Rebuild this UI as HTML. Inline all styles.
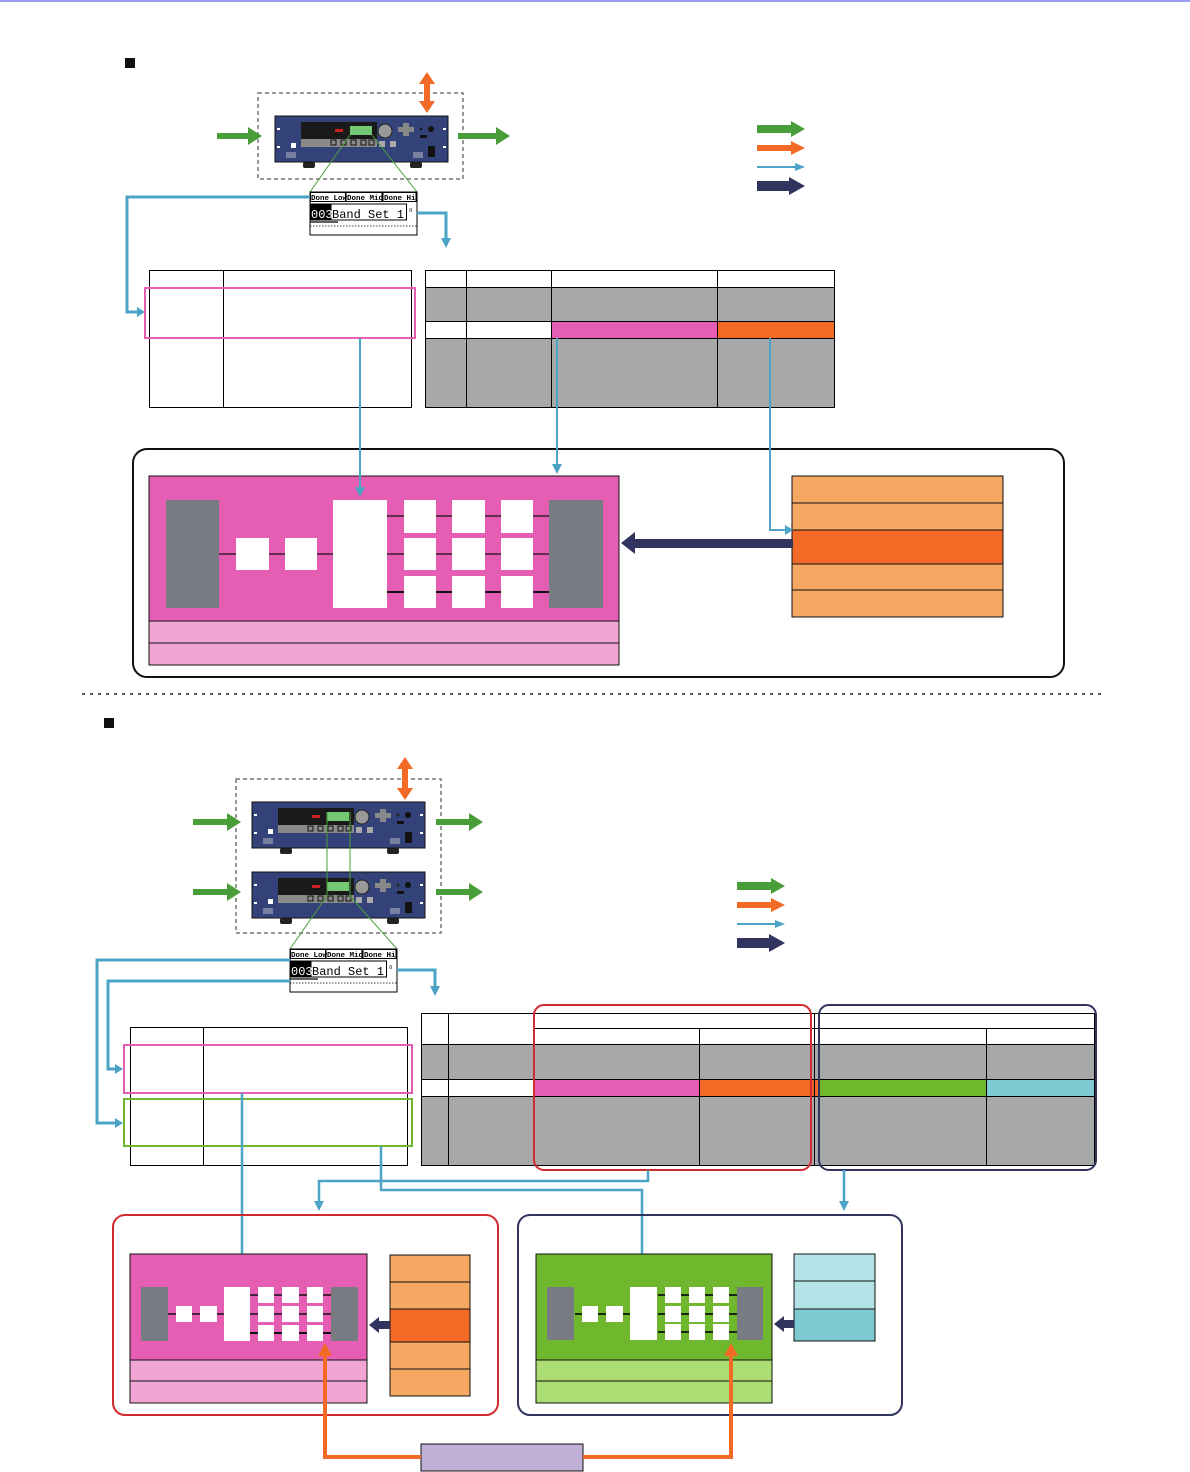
<!DOCTYPE html>
<html><head><meta charset="utf-8"><style>html,body{margin:0;padding:0;background:#fff}svg{display:block}</style></head><body>
<svg width="1190" height="1472" viewBox="0 0 1190 1472" xmlns="http://www.w3.org/2000/svg" font-family="Liberation Mono, monospace">
<defs>
<g id="dev">
<rect x="-5" y="46" width="1" height="1" fill="none"/>
<rect x="28" y="46" width="12" height="6" rx="2" fill="#222"/>
<rect x="135" y="46" width="12" height="6" rx="2" fill="#222"/>
<rect x="0" y="0" width="173" height="46" fill="#34427a" stroke="#111" stroke-width="1"/>
<rect x="26" y="6" width="76" height="25" fill="#1a1a1a"/>
<rect x="26" y="23" width="76" height="8" fill="#8a8a8a"/>
<rect x="75" y="10" width="22" height="9" fill="#74c874"/>
<rect x="60" y="13" width="8" height="3" fill="#c22"/>
<g fill="none" stroke="#111" stroke-width="1"><rect x="56" y="24" width="5" height="5"/><rect x="66" y="24" width="5" height="5"/><rect x="76" y="24" width="5" height="5"/><rect x="86" y="24" width="5" height="5"/><rect x="94" y="24" width="5" height="5"/></g>
<circle cx="110" cy="15" r="7" fill="#999" stroke="#222"/>
<rect x="123" y="11" width="16" height="5" fill="#888"/><rect x="128" y="7" width="6" height="13" fill="#888"/>
<rect x="104" y="25" width="6" height="6" fill="#aaa"/><rect x="115" y="25" width="6" height="6" fill="#aaa"/>
<circle cx="146" cy="13" r="1.5" fill="#222"/><circle cx="156" cy="13" r="3" fill="#111"/>
<rect x="145" y="19" width="7" height="3" fill="#111"/>
<rect x="153" y="30" width="7" height="11" fill="#111"/>
<rect x="16" y="27" width="5" height="5" fill="#fff"/>
<g stroke="#ddd" stroke-width="0.8"><path d="M12 36v6M14 36v6M16 36v6M18 36v6M20 36v6M139 36v6M141 36v6M143 36v6M145 36v6M147 36v6"/></g>
<g fill="#fff"><rect x="2" y="12" width="3" height="2"/><rect x="2" y="30" width="3" height="2"/><rect x="168" y="12" width="3" height="2"/><rect x="168" y="30" width="3" height="2"/></g>
</g>
<g id="lcd">
<rect x="0" y="0" width="107" height="43" fill="#fff" stroke="#000" stroke-width="1"/>
<g stroke="#000" stroke-width="1" fill="none"><rect x="0.5" y="0.5" width="35" height="9"/><rect x="36" y="0.5" width="36" height="9"/><rect x="73" y="0.5" width="33" height="9"/><rect x="0.5" y="12" width="96" height="16"/></g>
<text x="1" y="8" font-size="7.5" font-weight="bold">Done Low</text>
<text x="37" y="8" font-size="7.5" font-weight="bold">Done Mid</text>
<text x="74" y="8" font-size="7.5" font-weight="bold">Done Hi</text>
<rect x="0.5" y="12" width="21" height="16" fill="#000"/>
<text x="1" y="26" font-size="12" fill="#fff">003</text>
<text x="22" y="26" font-size="12">Band Set 1</text>
<text x="99" y="20" font-size="6">¤</text>
<line x1="0" y1="34" x2="107" y2="34" stroke="#000" stroke-dasharray="1.5 1.5" stroke-width="0.8"/>
<line x1="0" y1="30" x2="28" y2="30" stroke="#000" stroke-width="1.2"/>
</g>
</defs>
<rect x="0" y="0" width="1190" height="2" fill="#9c9cf0"/>

<!-- ===== TOP SECTION ===== -->
<rect x="125" y="58" width="10" height="10" fill="#111"/>
<rect x="258" y="93" width="205" height="86" fill="none" stroke="#777" stroke-width="1.5" stroke-dasharray="4 3"/>
<use href="#dev" x="275" y="116"/>
<!-- orange double arrow -->
<path d="M427 72 L435 84 L430 84 L430 101 L435 101 L427 113 L419 101 L424 101 L424 84 L419 84 Z" fill="#f36a26"/>
<!-- green in/out -->
<path d="M217 133 H248 V127 L262 136 L248 145 V139 H217 Z" fill="#4a9e3a"/>
<path d="M458 133 H496 V127 L510 136 L496 145 V139 H458 Z" fill="#4a9e3a"/>
<g stroke="#4a9e3a" stroke-width="1"><line x1="350" y1="135" x2="310" y2="192"/><line x1="372" y1="135" x2="417" y2="192"/></g>
<use href="#lcd" x="310" y="192"/>
<g fill="none" stroke="#4ba3c5" stroke-width="3"><path d="M310 197 H127 V312 H138"/><path d="M417 213 H446 V240"/></g>
<path d="M137 307 L145 312 L137 317 Z" fill="#4ba3c5"/><path d="M441 238 L446 248 L451 238 Z" fill="#4ba3c5"/>
<!-- legend -->
<path d="M757 125 H791 V121 L805 129 L791 137 V133 H757 Z" fill="#4a9e3a"/>
<path d="M757 145 H791 V141 L805 148 L791 155 V151 H757 Z" fill="#f36a26"/>
<path d="M757 166 H795 V163 L805 167 L795 171 V168 H757 Z" fill="#4ba3c5"/>
<path d="M757 181 H789 V177 L805 186 L789 195 V191 H757 Z" fill="#31345f"/>
<!-- left table -->
<g stroke="#000" stroke-width="1" fill="none"><rect x="149.5" y="270.5" width="262" height="137"/><line x1="149" y1="287.5" x2="411" y2="287.5"/><line x1="223.5" y1="270" x2="223.5" y2="407"/><line x1="149" y1="338.5" x2="411" y2="338.5"/></g>
<rect x="145" y="288" width="270" height="50" fill="none" stroke="#e55eb3" stroke-width="2"/>
<!-- right table -->
<rect x="425" y="287" width="409" height="34" fill="#a7a8aa"/>
<rect x="551" y="321" width="166" height="17" fill="#e55eb3"/>
<rect x="717" y="321" width="117" height="17" fill="#f36a26"/>
<rect x="425" y="338" width="409" height="69" fill="#a7a8aa"/>
<g stroke="#000" stroke-width="1" fill="none"><rect x="425.5" y="270.5" width="409" height="137"/><line x1="425" y1="287.5" x2="834" y2="287.5"/><line x1="425" y1="321.5" x2="834" y2="321.5"/><line x1="425" y1="338.5" x2="834" y2="338.5"/><line x1="466.5" y1="270" x2="466.5" y2="407"/><line x1="551.5" y1="270" x2="551.5" y2="407"/><line x1="717.5" y1="270" x2="717.5" y2="407"/></g>
<!-- big rounded box -->
<rect x="133" y="449" width="931" height="228" rx="14" fill="none" stroke="#111" stroke-width="2"/>
<rect x="149" y="476" width="470" height="145" fill="#e55eb3" stroke="#111"/>
<rect x="149" y="621" width="470" height="22" fill="#f1a5d4" stroke="#111"/>
<rect x="149" y="643" width="470" height="22" fill="#f1a5d4" stroke="#111"/>
<g stroke="#111" stroke-width="1.2"><line x1="219" y1="554" x2="333" y2="554"/><line x1="387" y1="516" x2="549" y2="516"/><line x1="387" y1="554" x2="549" y2="554"/><line x1="387" y1="592" x2="549" y2="592" stroke-width="2"/></g>
<rect x="166" y="500" width="53" height="108" fill="#797b83"/>
<rect x="549" y="500" width="54" height="108" fill="#797b83"/>
<g fill="#fff"><rect x="236" y="538" width="33" height="32"/><rect x="285" y="538" width="32" height="32"/><rect x="333" y="500" width="54" height="108"/>
<rect x="404" y="500" width="32" height="33"/><rect x="452" y="500" width="33" height="33"/><rect x="501" y="500" width="32" height="33"/>
<rect x="404" y="538" width="32" height="32"/><rect x="452" y="538" width="33" height="32"/><rect x="501" y="538" width="32" height="32"/>
<rect x="404" y="576" width="32" height="32"/><rect x="452" y="576" width="33" height="32"/><rect x="501" y="576" width="32" height="32"/></g>
<!-- orange stack -->
<g stroke="#111" stroke-width="1"><rect x="792" y="476" width="211" height="27" fill="#f4a862"/><rect x="792" y="503" width="211" height="27" fill="#f4a862"/><rect x="792" y="530" width="211" height="34" fill="#f36a26"/><rect x="792" y="564" width="211" height="26" fill="#f4a862"/><rect x="792" y="590" width="211" height="27" fill="#f4a862"/></g>
<path d="M793 539 H635 V532 L621 543 L635 554 V548 H793 Z" fill="#31345f"/>
<!-- blue connectors top -->
<g fill="none" stroke="#4ba3c5" stroke-width="2"><path d="M360 338 V490"/><path d="M557 338 V466"/><path d="M770 338 V530 H786"/></g>
<g fill="#4ba3c5"><path d="M355 487 L360 497 L365 487 Z"/><path d="M552 464 L557 474 L562 464 Z"/><path d="M785 525 L793 530 L785 535 Z"/></g>

<line x1="82" y1="694" x2="1103" y2="694" stroke="#222" stroke-width="1.5" stroke-dasharray="3 5"/>

<!-- ===== BOTTOM SECTION ===== -->
<rect x="104" y="718" width="10" height="10" fill="#111"/>
<rect x="236" y="779" width="205" height="154" fill="none" stroke="#777" stroke-width="1.5" stroke-dasharray="4 3"/>
<use href="#dev" x="252" y="802"/>
<use href="#dev" x="252" y="872"/>
<path d="M405 757 L413 769 L408 769 L408 788 L413 788 L405 800 L397 788 L402 788 L402 769 L397 769 Z" fill="#f36a26"/>
<path d="M193 819 H227 V813 L241 822 L227 831 V825 H193 Z" fill="#4a9e3a"/>
<path d="M193 889 H227 V883 L241 892 L227 901 V895 H193 Z" fill="#4a9e3a"/>
<path d="M436 819 H469 V813 L483 822 L469 831 V825 H436 Z" fill="#4a9e3a"/>
<path d="M436 889 H469 V883 L483 892 L469 901 V895 H436 Z" fill="#4a9e3a"/>
<g stroke="#4a9e3a" stroke-width="1"><line x1="327" y1="812" x2="327" y2="896"/><line x1="350" y1="812" x2="350" y2="896"/><line x1="327" y1="896" x2="290" y2="949"/><line x1="350" y1="896" x2="397" y2="949"/></g>
<use href="#lcd" x="290" y="949"/>
<g fill="none" stroke="#4ba3c5" stroke-width="3"><path d="M290 960 H97 V1123 H116"/><path d="M290 981 H108 V1069 H116"/><path d="M397 970 H435 V987"/></g>
<g fill="#4ba3c5"><path d="M115 1118 L123 1123 L115 1128 Z"/><path d="M115 1064 L123 1069 L115 1074 Z"/><path d="M430 986 L435 996 L440 986 Z"/></g>
<!-- legend 2 -->
<path d="M737 882 H771 V878 L785 886 L771 894 V890 H737 Z" fill="#4a9e3a"/>
<path d="M737 902 H771 V898 L785 905 L771 912 V908 H737 Z" fill="#f36a26"/>
<path d="M737 923 H775 V920 L785 924 L775 928 V925 H737 Z" fill="#4ba3c5"/>
<path d="M737 938 H769 V934 L785 943 L769 952 V948 H737 Z" fill="#31345f"/>
<!-- left table 2 -->
<g stroke="#000" stroke-width="1" fill="none"><rect x="130.5" y="1027.5" width="277" height="138"/><line x1="130" y1="1044.5" x2="407" y2="1044.5"/><line x1="203.5" y1="1027" x2="203.5" y2="1165"/></g>
<rect x="124" y="1045" width="288" height="48" fill="none" stroke="#e55eb3" stroke-width="2"/>
<rect x="124" y="1099" width="288" height="47" fill="none" stroke="#6fb82e" stroke-width="2"/>
<!-- right table 2 -->
<rect x="421" y="1044" width="674" height="35" fill="#a7a8aa"/>
<rect x="534" y="1079" width="165" height="17" fill="#e55eb3"/>
<rect x="699" y="1079" width="120" height="17" fill="#f36a26"/>
<rect x="819" y="1079" width="167" height="17" fill="#6fb82e"/>
<rect x="986" y="1079" width="109" height="17" fill="#7ecad3"/>
<rect x="421" y="1096" width="674" height="69" fill="#a7a8aa"/>
<g stroke="#000" stroke-width="1" fill="none"><rect x="421.5" y="1013.5" width="673" height="152"/><line x1="534" y1="1028.5" x2="1095" y2="1028.5"/><line x1="421" y1="1044.5" x2="1095" y2="1044.5"/><line x1="421" y1="1079.5" x2="1095" y2="1079.5"/><line x1="421" y1="1096.5" x2="1095" y2="1096.5"/>
<line x1="448.5" y1="1013" x2="448.5" y2="1165"/><line x1="534.5" y1="1013" x2="534.5" y2="1165"/><line x1="699.5" y1="1028" x2="699.5" y2="1165"/><line x1="814.5" y1="1013" x2="814.5" y2="1165"/><line x1="986.5" y1="1028" x2="986.5" y2="1165"/></g>
<rect x="534" y="1005" width="277" height="165" rx="10" fill="none" stroke="#d12a2f" stroke-width="2"/>
<rect x="819" y="1005" width="277" height="165" rx="10" fill="none" stroke="#31345f" stroke-width="2"/>
<!-- blue connectors bottom -->
<g fill="none" stroke="#4ba3c5" stroke-width="2.5"><path d="M242 1093 V1275"/><path d="M381 1146 V1190 H642 V1275"/><path d="M648 1170 V1181 H319 V1203"/><path d="M844 1170 V1203"/></g>
<g fill="#4ba3c5"><path d="M237 1273 L242 1283 L247 1273 Z"/><path d="M637 1273 L642 1283 L647 1273 Z"/><path d="M314 1201 L319 1211 L324 1201 Z"/><path d="M839 1201 L844 1211 L849 1201 Z"/></g>
<!-- red/navy boxes -->
<rect x="113" y="1215" width="385" height="200" rx="12" fill="none" stroke="#d12a2f" stroke-width="2"/>
<rect x="518" y="1215" width="384" height="200" rx="12" fill="none" stroke="#31345f" stroke-width="2"/>
<!-- pink block -->
<rect x="130" y="1254" width="237" height="106" fill="#e55eb3" stroke="#111"/>
<rect x="130" y="1360" width="237" height="21" fill="#f1a5d4" stroke="#111"/>
<rect x="130" y="1381" width="237" height="22" fill="#f1a5d4" stroke="#111"/>
<g stroke="#111" stroke-width="1.5"><line x1="168" y1="1314" x2="224" y2="1314"/><line x1="250" y1="1295" x2="331" y2="1295"/><line x1="250" y1="1314" x2="331" y2="1314"/><line x1="250" y1="1333" x2="331" y2="1333" stroke-width="2"/></g>
<g fill="#797b83"><rect x="141" y="1287" width="27" height="54"/><rect x="331" y="1287" width="27" height="54"/></g>
<g fill="#fff"><rect x="176" y="1306" width="16" height="16"/><rect x="200" y="1306" width="17" height="16"/><rect x="224" y="1287" width="26" height="54"/>
<rect x="258" y="1287" width="16" height="16"/><rect x="282" y="1287" width="17" height="16"/><rect x="307" y="1287" width="16" height="16"/>
<rect x="258" y="1306" width="16" height="16"/><rect x="282" y="1306" width="17" height="16"/><rect x="307" y="1306" width="16" height="16"/>
<rect x="258" y="1325" width="16" height="16"/><rect x="282" y="1325" width="17" height="16"/><rect x="307" y="1325" width="16" height="16"/></g>
<g stroke="#111" stroke-width="1"><rect x="390" y="1255" width="80" height="27" fill="#f4a862"/><rect x="390" y="1282" width="80" height="27" fill="#f4a862"/><rect x="390" y="1309" width="80" height="33" fill="#f36a26"/><rect x="390" y="1342" width="80" height="27" fill="#f4a862"/><rect x="390" y="1369" width="80" height="27" fill="#f4a862"/></g>
<path d="M390 1321 H379 V1317 L369 1325 L379 1333 V1329 H390 Z" fill="#31345f"/>
<!-- green block -->
<rect x="536" y="1254" width="236" height="106" fill="#6fb82e" stroke="#111"/>
<rect x="536" y="1360" width="236" height="21" fill="#acdd73" stroke="#111"/>
<rect x="536" y="1381" width="236" height="22" fill="#acdd73" stroke="#111"/>
<g stroke="#111" stroke-width="1.8"><line x1="575" y1="1314" x2="630" y2="1314"/><line x1="658" y1="1295" x2="738" y2="1295"/><line x1="658" y1="1314" x2="738" y2="1314"/><line x1="658" y1="1332" x2="738" y2="1332"/></g>
<g fill="#797b83"><rect x="547" y="1287" width="27" height="53"/><rect x="737" y="1287" width="26" height="53"/></g>
<g fill="#fff"><rect x="582" y="1306" width="16" height="16"/><rect x="606" y="1306" width="17" height="16"/><rect x="630" y="1287" width="27" height="53"/>
<rect x="665" y="1287" width="16" height="16"/><rect x="689" y="1287" width="16" height="16"/><rect x="713" y="1287" width="16" height="16"/>
<rect x="665" y="1306" width="16" height="16"/><rect x="689" y="1306" width="16" height="16"/><rect x="713" y="1306" width="16" height="16"/>
<rect x="665" y="1324" width="16" height="16"/><rect x="689" y="1324" width="16" height="16"/><rect x="713" y="1324" width="16" height="16"/></g>
<g stroke="#111" stroke-width="1"><rect x="794" y="1254" width="81" height="27" fill="#b3e3e6"/><rect x="794" y="1281" width="81" height="28" fill="#b3e3e6"/><rect x="794" y="1309" width="81" height="32" fill="#7ecad3"/></g>
<path d="M794 1320 H784 V1316 L774 1324 L784 1332 V1328 H794 Z" fill="#31345f"/>
<!-- orange routing -->
<rect x="421" y="1444" width="162" height="27" fill="#bfaed6" stroke="#111"/>
<path d="M421 1457 H325 V1352 M583 1457 H731 V1352" fill="none" stroke="#f36a26" stroke-width="4"/>
<g fill="#f36a26"><path d="M318 1356 L325 1343 L332 1356 Z"/><path d="M724 1356 L731 1343 L738 1356 Z"/></g>
</svg>
</body></html>
